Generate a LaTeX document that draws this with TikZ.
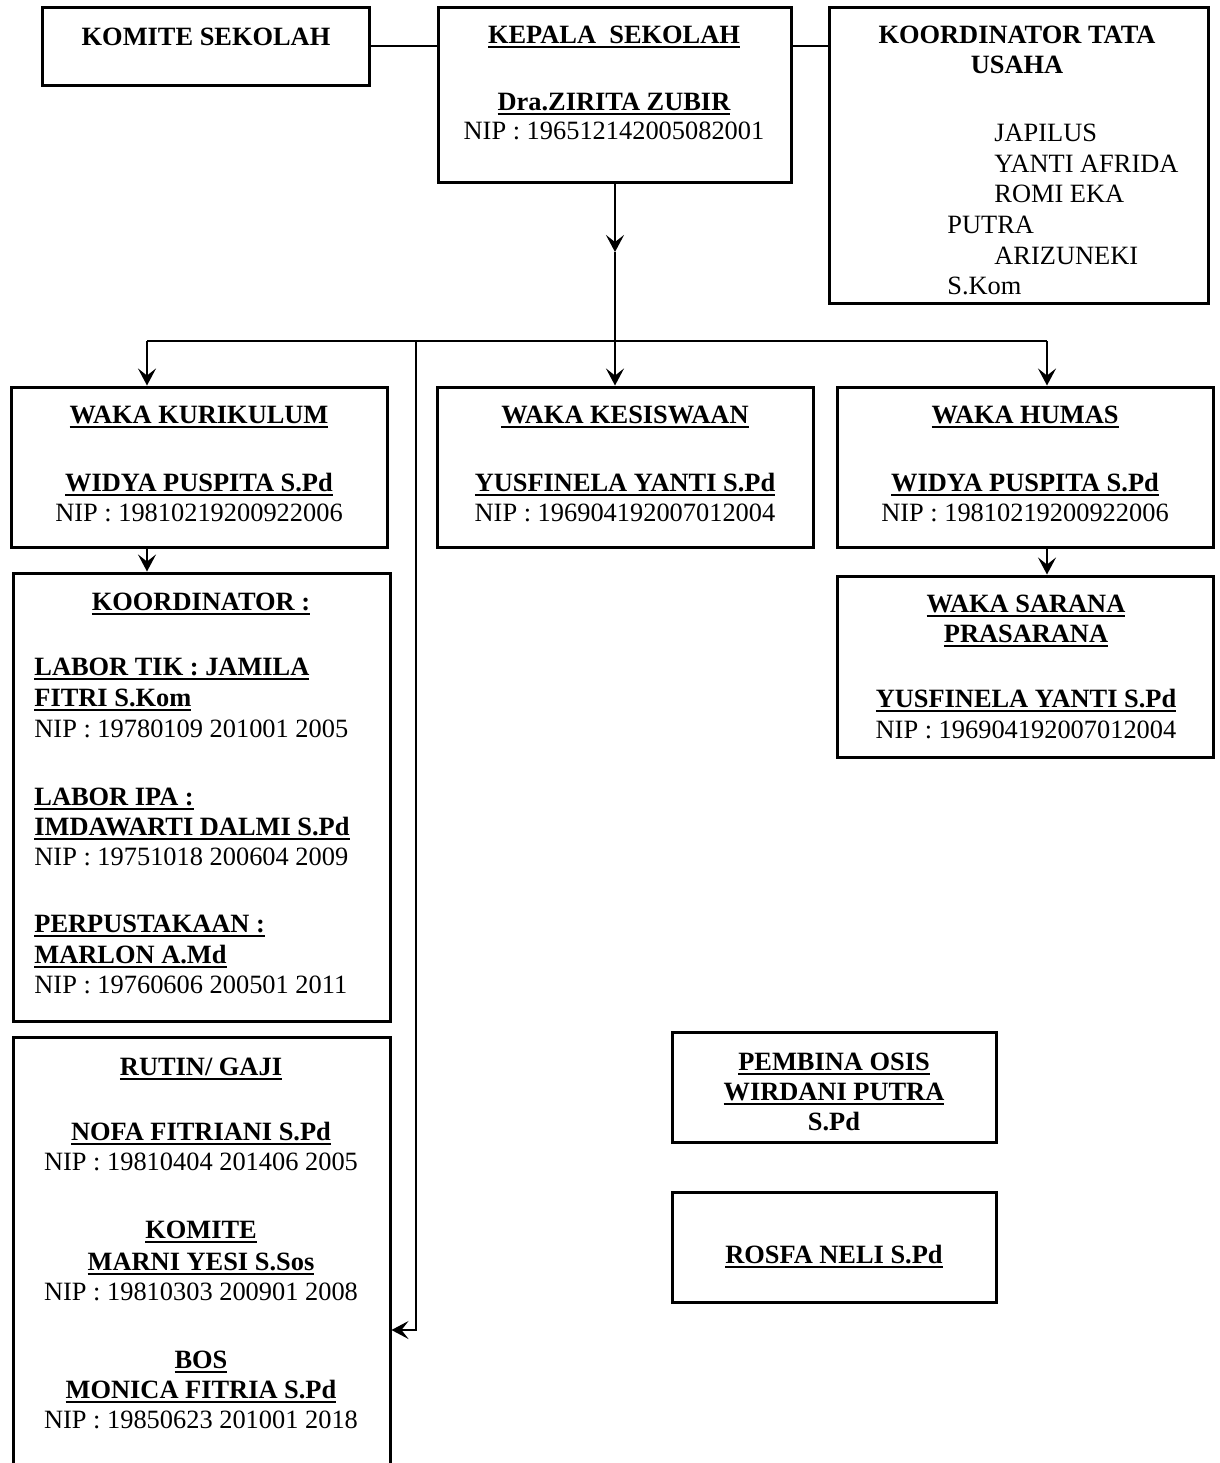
\documentclass[tikz,border=0pt]{standalone}
\usepackage{fontspec}
\setmainfont{Liberation Serif}
\usetikzlibrary{arrows.meta,fit}
\newcommand{\myul}[1]{\leavevmode\setbox0\hbox{#1}\dimen0=\wd0\relax\rlap{\box0}\rule[-2.6pt]{\dimen0}{1pt}}
\newcommand{\bu}[1]{\myul{\bfseries #1}}
\tikzset{
  box/.style={draw, line width=1.5pt, inner sep=0pt},
  conn/.style={line width=1pt},
  arr/.style={-{Stealth[length=8.5pt,width=9pt,inset=3.5pt]}},
  txt/.style={inner sep=0pt, anchor=base, font=\fontsize{13.2pt}{15pt}\selectfont},
  ltxt/.style={txt, anchor=base west},
}
\begin{document}
\begin{tikzpicture}[x=0.5pt,y=-0.5pt]
\useasboundingbox (0,0) rectangle (1220,1463);
\clip (0,0) rectangle (1220,1463);
% boxes
\node[box, fit={(42,7) (369,85)}] (komite) {};
\node[box, fit={(438,7) (791,182)}] (kepala) {};
\node[box, fit={(829,7) (1208,303)}] (ktu) {};
\node[box, fit={(11,387) (387,547)}] (kurikulum) {};
\node[box, fit={(437,387) (813,547)}] (kesiswaan) {};
\node[box, fit={(837,387) (1213,547)}] (humas) {};
\node[box, fit={(13,573) (390,1021)}] (koord) {};
\node[box, fit={(13,1037) (390,1520)}] (rutin) {};
\node[box, fit={(837,576) (1213,757)}] (sarana) {};
\node[box, fit={(672,1032) (996,1142)}] (pembina) {};
\node[box, fit={(672,1192) (996,1302)}] (rosfa) {};
% texts
\node[txt] (t1) at (206,45) {\bfseries KOMITE SEKOLAH};
\node[txt] (t2) at (614,43) {\bu{KEPALA\ \ SEKOLAH}};
\node[txt] (t3) at (614,110) {\bu{Dra.ZIRITA ZUBIR}};
\node[txt] (t4) at (614,139) {NIP : 196512142005082001};
\node[txt] (t5) at (1017,43) {\bfseries KOORDINATOR TATA};
\node[txt] (t6) at (1017,73) {\bfseries USAHA};
\node[ltxt] (t7) at (994,141) {JAPILUS};
\node[ltxt] (t8) at (994,172) {YANTI AFRIDA};
\node[ltxt] (t9) at (994,202) {ROMI EKA};
\node[ltxt] (t10) at (947,233) {PUTRA};
\node[ltxt] (t11) at (994,264) {ARIZUNEKI};
\node[ltxt] (t12) at (947,294) {S.Kom};
\node[txt] (t13) at (199,423) {\bu{WAKA KURIKULUM}};
\node[txt] (t14) at (199,491) {\bu{WIDYA PUSPITA S.Pd}};
\node[txt] (t15) at (199,521) {NIP : 19810219200922006};
\node[txt] (t16) at (625,423) {\bu{WAKA KESISWAAN}};
\node[txt] (t17) at (625,491) {\bu{YUSFINELA YANTI S.Pd}};
\node[txt] (t18) at (625,521) {NIP : 196904192007012004};
\node[txt] (t19) at (1025,423) {\bu{WAKA HUMAS}};
\node[txt] (t20) at (1025,491) {\bu{WIDYA PUSPITA S.Pd}};
\node[txt] (t21) at (1025,521) {NIP : 19810219200922006};
\node[txt] (t22) at (201,610) {\bu{KOORDINATOR :}};
\node[ltxt] (t23) at (34,675) {\bu{LABOR TIK : JAMILA}};
\node[ltxt] (t24) at (34,706) {\bu{FITRI S.Kom}};
\node[ltxt] (t25) at (34,737) {NIP : 19780109 201001 2005};
\node[ltxt] (t26) at (34,805) {\bu{LABOR IPA :}};
\node[ltxt] (t27) at (34,835) {\bu{IMDAWARTI DALMI S.Pd}};
\node[ltxt] (t28) at (34,865) {NIP : 19751018 200604 2009};
\node[ltxt] (t29) at (34,932) {\bu{PERPUSTAKAAN :}};
\node[ltxt] (t30) at (34,963) {\bu{MARLON A.Md}};
\node[ltxt] (t31) at (34,993) {NIP : 19760606 200501 2011};
\node[txt] (t32) at (201,1075) {\bu{RUTIN/ GAJI}};
\node[txt] (t33) at (201,1140) {\bu{NOFA FITRIANI S.Pd}};
\node[txt] (t34) at (201,1170) {NIP : 19810404 201406 2005};
\node[txt] (t35) at (201,1238) {\bu{KOMITE}};
\node[txt] (t36) at (201,1270) {\bu{MARNI YESI S.Sos}};
\node[txt] (t37) at (201,1300) {NIP : 19810303 200901 2008};
\node[txt] (t38) at (201,1368) {\bu{BOS}};
\node[txt] (t39) at (201,1398) {\bu{MONICA FITRIA S.Pd}};
\node[txt] (t40) at (201,1428) {NIP : 19850623 201001 2018};
\node[txt] (t41) at (1026,612) {\bu{WAKA SARANA}};
\node[txt] (t42) at (1026,642) {\bu{PRASARANA}};
\node[txt] (t43) at (1026,707) {\bu{YUSFINELA YANTI S.Pd}};
\node[txt] (t44) at (1026,738) {NIP : 196904192007012004};
\node[txt] (t45) at (834,1070) {\bu{PEMBINA OSIS}};
\node[txt] (t46) at (834,1100) {\bu{WIRDANI PUTRA}};
\node[txt] (t47) at (834,1130) {\bfseries S.Pd};
\node[txt] (t48) at (834,1263) {\bu{ROSFA NELI S.Pd}};
% connectors
\draw[conn] (komite.east) -- (kepala.west |- komite.east);
\draw[conn] (kepala.east |- komite.east) -- (ktu.west |- komite.east);
\coordinate (mid) at (615,252);
\coordinate (busC) at (615,341);
\coordinate (busL) at (147,341);
\coordinate (busR) at (1047,341);
\coordinate (busM) at (416,341);
\coordinate (rj) at (416,1330);
\draw[conn,arr] (kepala.south -| mid) -- (mid);
\draw[conn] (mid) -- (busC);
\draw[conn] (busL) -- (busR);
\draw[conn,arr] (busL) -- (busL |- kurikulum.north);
\draw[conn,arr] (busC) -- (busC |- kesiswaan.north);
\draw[conn,arr] (busR) -- (busR |- humas.north);
\draw[conn,arr] (busL |- kurikulum.south) -- (busL |- koord.north);
\draw[conn,arr] (busR |- humas.south) -- (busR |- sarana.north);
\draw[conn,arr] (busM) -- (rj) -- (rutin.east |- rj);
\end{tikzpicture}
\end{document}
